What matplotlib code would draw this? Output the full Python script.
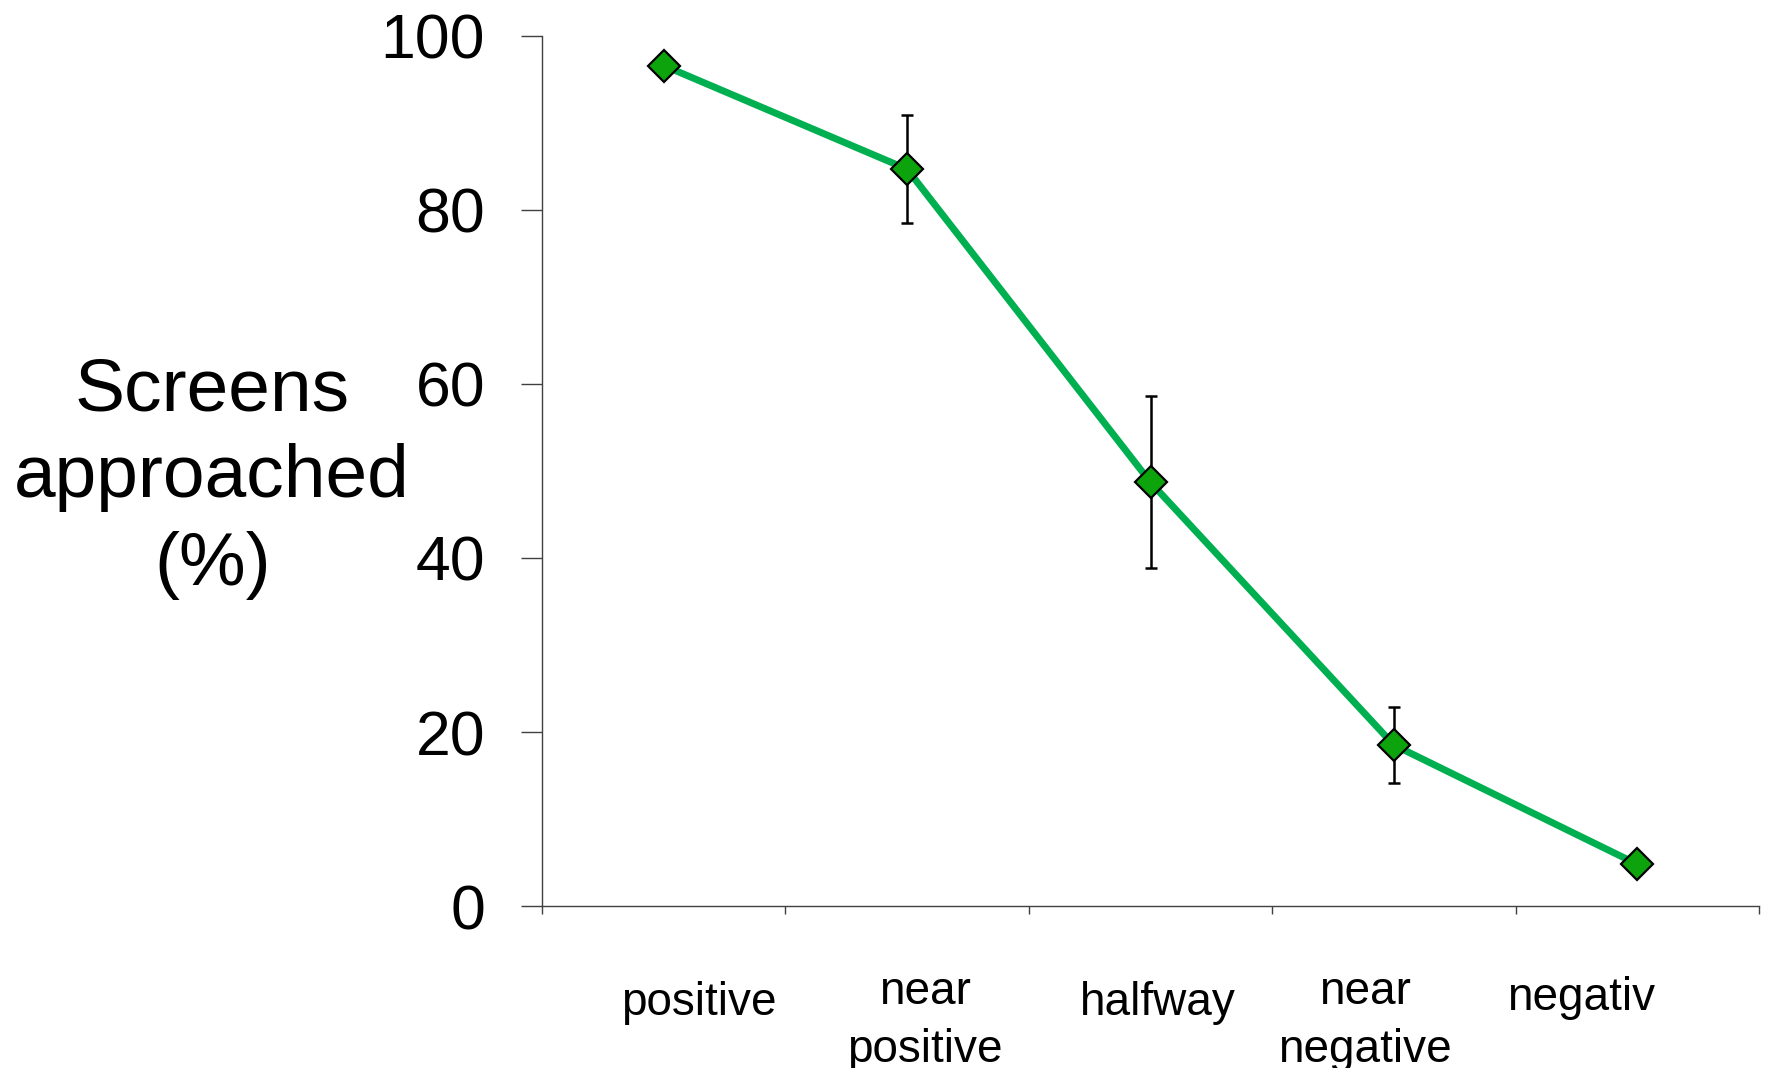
import matplotlib
matplotlib.use("Agg")
import matplotlib.pyplot as plt
import matplotlib.transforms as mtransforms

plt.rcParams['font.family'] = ['Liberation Sans', 'DejaVu Sans']

# screens approached per position
categories = ["positive", "near\npositive", "halfway", "near\nnegative", "negativ"]
approached = [96.6, 84.7, 48.7, 18.5, 4.8]
errors = [0, 6.2, 9.9, 4.4, 0]
yticks = [0, 20, 40, 60, 80, 100]

# the labels in the original sit a bit off-centre (pixels: right, down)
label_shift_px = [(35, 11), (18, 0), (7, 11), (-29, 0), (-56, 6)]

fig = plt.figure(figsize=(17.67, 10.68), dpi=100)
ax = fig.add_axes([542 / 1767, 1 - 906 / 1068, 1217 / 1767, 870 / 1068])

x = list(range(1, len(categories) + 1))
ax.plot(x, approached, color="#00B050", lw=5, zorder=2, solid_capstyle="round")
has_err = [i for i, e in enumerate(errors) if e > 0]
ax.errorbar([x[i] for i in has_err], [approached[i] for i in has_err],
            yerr=[errors[i] for i in has_err], fmt="none", ecolor="black",
            elinewidth=1.8, capsize=4.3, capthick=1.8, zorder=3)
ax.plot(x, approached, ls="none", marker="D", markersize=16.5,
        markerfacecolor="#0CA30C", markeredgecolor="black", markeredgewidth=1.6,
        zorder=4)

ax.set_xlim(0.5, len(categories) + 0.5)
ax.set_ylim(0, 100)
ax.set_yticks(yticks)
ax.set_xticks(x)
ax.set_xticklabels(categories, fontsize=33, linespacing=1.42, va="top")
ax.set_xticks([i + 0.5 for i in range(len(categories) + 1)], minor=True)
ax.tick_params(axis="x", which="major", length=0, pad=46)
ax.tick_params(axis="x", which="minor", length=6, width=1, color="#404040", direction="out")
ax.tick_params(axis="y", labelsize=45, length=15, width=1, color="#404040", pad=26)

for lab, (dx, dy) in zip(ax.get_xticklabels(), label_shift_px):
    lab.set_transform(lab.get_transform() + mtransforms.ScaledTranslation(dx / 100, -dy / 100, fig.dpi_scale_trans))

for s in ["top", "right"]:
    ax.spines[s].set_visible(False)
for s in ["left", "bottom"]:
    ax.spines[s].set_color("#404040")
    ax.spines[s].set_linewidth(1)

ax.set_ylabel("Screens\napproached\n(%)", rotation=0, fontsize=54,
              ha="center", va="center", linespacing=1.34)
ax.yaxis.set_label_coords(-0.271, 0.492)

fig.savefig("out.png", dpi=100)
